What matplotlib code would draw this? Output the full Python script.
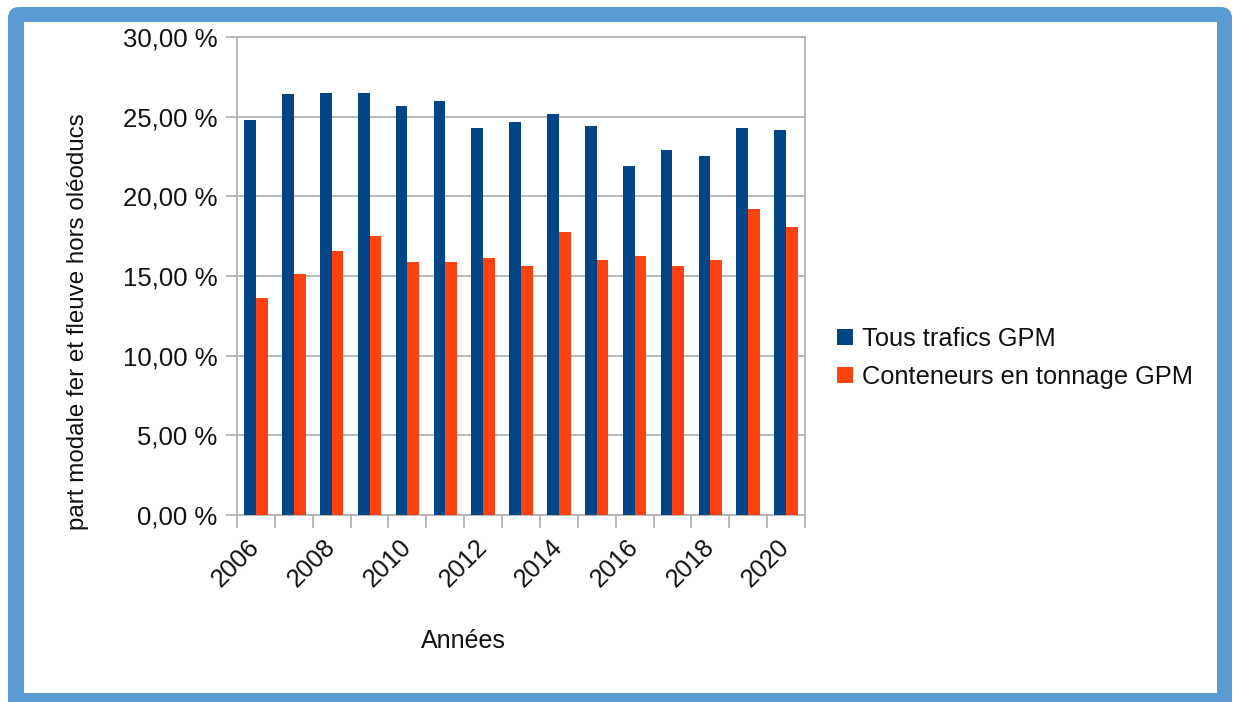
import matplotlib
matplotlib.use("Agg")
import matplotlib.pyplot as plt
from matplotlib.patches import FancyBboxPatch, Rectangle
import numpy as np

years = list(range(2006, 2021))
tous_trafics = [24.8, 26.4, 26.5, 26.5, 25.65, 26.0, 24.3, 24.65, 25.15, 24.4, 21.9, 22.9, 22.55, 24.3, 24.15]
conteneurs = [13.65, 15.15, 16.6, 17.5, 15.9, 15.9, 16.15, 15.65, 17.75, 16.0, 16.25, 15.65, 16.0, 19.2, 18.1]
series_names = ["Tous trafics GPM", "Conteneurs en tonnage GPM"]
y_ticks = [0, 5, 10, 15, 20, 25, 30]
y_tick_labels = ["0,00 %", "5,00 %", "10,00 %", "15,00 %", "20,00 %", "25,00 %", "30,00 %"]

BLUE = "#004586"
ORANGE = "#ff420e"
GRID = "#b3b3b3"
FRAME = "#5b9bd5"

plt.rcParams['font.family'] = ['Liberation Sans', 'DejaVu Sans']

W, H = 1235, 702
fig = plt.figure(figsize=(W / 100, H / 100), dpi=100)

# blue rounded frame
outer = FancyBboxPatch((8 / W, -30 / H), (1232 - 8) / W, (695 + 30) / H,
                       boxstyle="round,pad=0,rounding_size=0.009",
                       transform=fig.transFigure, facecolor=FRAME, edgecolor='none',
                       mutation_aspect=W / H, zorder=-2)
fig.patches.append(outer)
inner = Rectangle((24 / W, 9 / H), (1217 - 24) / W, (680 - 9) / H,
                  transform=fig.transFigure, facecolor='white', edgecolor='none', zorder=-1)
fig.patches.append(inner)

left, right, top, bottom = 237, 805, 37, 515
ax = fig.add_axes([left / W, (H - bottom) / H, (right - left) / W, (bottom - top) / H])
ax.set_facecolor('none')
ax.set_zorder(2)

x = np.arange(len(years))
bw = 0.31
b1 = ax.bar(x - bw / 2, tous_trafics, bw, color=BLUE, label=series_names[0], zorder=3)
b2 = ax.bar(x + bw / 2, conteneurs, bw, color=ORANGE, label=series_names[1], zorder=3)

ax.set_xlim(-0.5, len(years) - 0.5)
ax.set_ylim(0, 30)
ax.set_yticks(y_ticks)
ax.set_yticklabels(y_tick_labels)
ax.yaxis.grid(True, color=GRID, lw=1.3, zorder=0)
ax.set_axisbelow(True)

ax.set_xticks(np.arange(-0.5, len(years), 1.0))
ax.set_xticklabels([])
ax.set_xticks(x[::2], minor=True)
ax.set_xticklabels([str(y) for y in years[::2]], minor=True, rotation=45,
                   ha='right', va='center', rotation_mode='anchor')
ax.tick_params(axis='x', which='major', length=9, width=1.3, color=GRID)
ax.tick_params(axis='x', which='minor', length=0, pad=20, labelsize=18.3, labelcolor='#111111')
ax.tick_params(axis='y', which='major', length=8, width=1.3, color=GRID, pad=6,
               labelsize=18.5, labelcolor='#111111')

for s in ax.spines.values():
    s.set_color(GRID)
    s.set_linewidth(1.3)

fig.text(463 / W, 1 - 641 / H, "Années", fontsize=18, ha='center', va='center', color='#111111')
fig.text(78 / W, 1 - 322 / H, "part modale fer et fleuve hors oléoducs", fontsize=17.4,
         rotation=90, ha='center', va='center', color='#111111')

leg = fig.legend(handles=[b1, b2], labels=series_names, loc='center left',
                 bbox_to_anchor=(837 / W, 1 - 358 / H), frameon=False, fontsize=18.3,
                 handlelength=0.62, handleheight=0.62, handletextpad=0.35,
                 labelspacing=0.55, borderaxespad=0, borderpad=0)
for t in leg.get_texts():
    t.set_color('#111111')

fig.savefig("out.png", dpi=100)
